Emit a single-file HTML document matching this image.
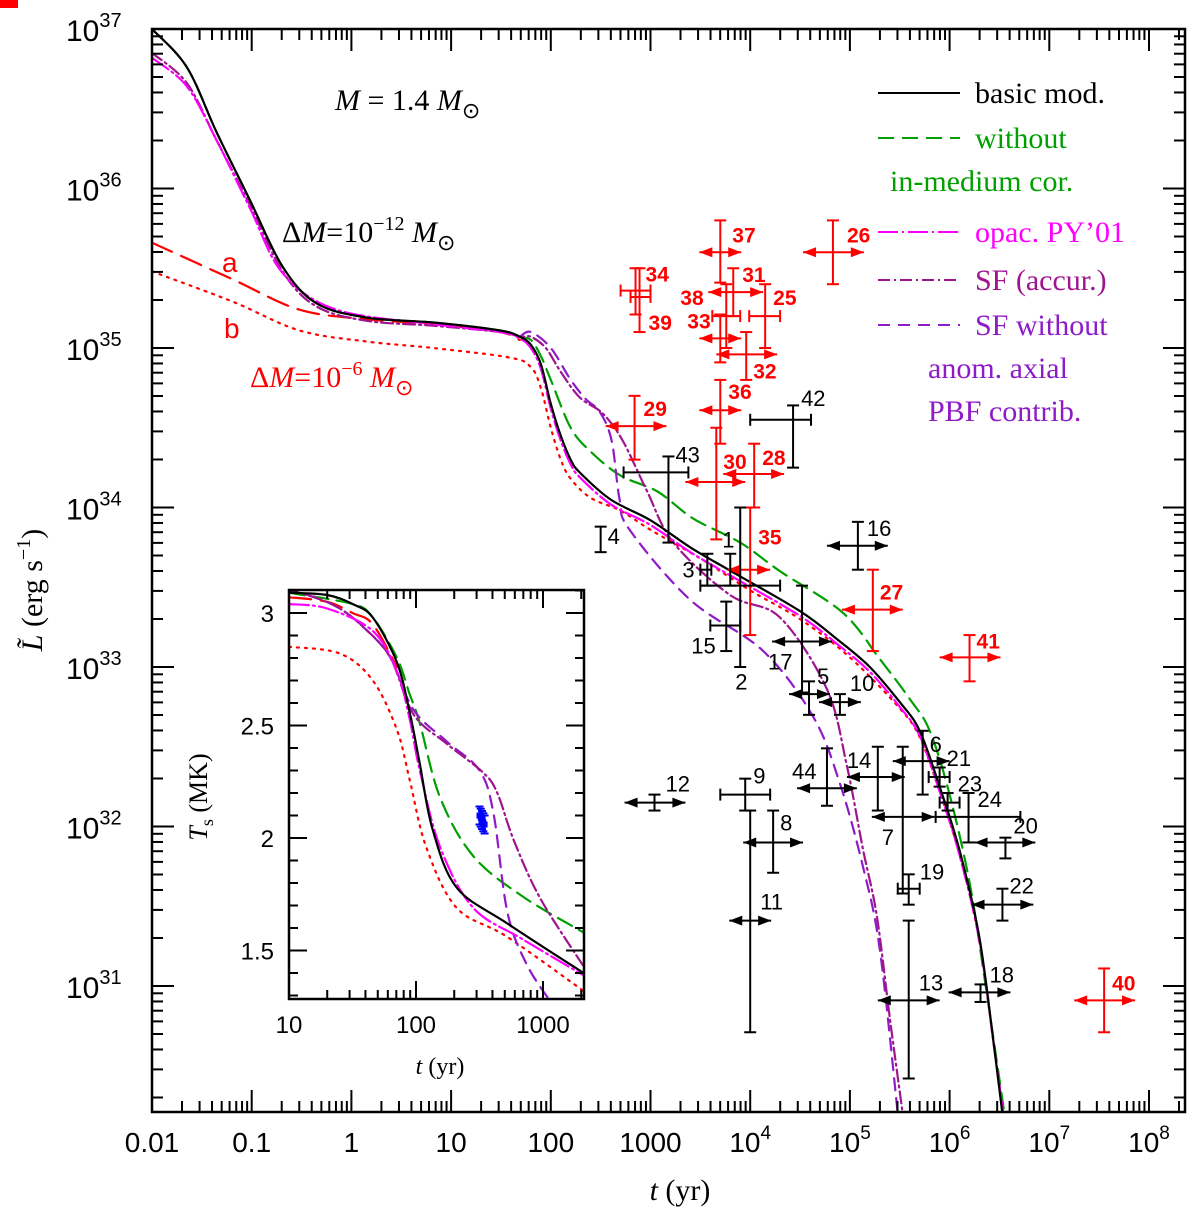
<!DOCTYPE html>
<html><head><meta charset="utf-8"><style>
html,body{margin:0;padding:0;background:#fff;}
svg{display:block;font-family:"Liberation Sans",sans-serif;}
</style></head><body>
<svg id="chart" width="1200" height="1215" viewBox="0 0 1200 1215" xmlns="http://www.w3.org/2000/svg">
<rect x="0" y="0" width="18" height="8" fill="#f00"/>
<defs>
<clipPath id="mainClip"><rect x="152" y="29" width="1033" height="1083"/></clipPath>
<clipPath id="insetClip"><rect x="289" y="590" width="295" height="409"/></clipPath>
</defs>
<g id="mainCurves" clip-path="url(#mainClip)"></g>
<g id="points"></g>
<g id="mainAxes"></g>
<g id="inset"></g>

<text x="335" y="110" font-size="30" font-family="Liberation Serif, serif"><tspan font-style="italic">M</tspan> = 1.4 <tspan font-style="italic">M</tspan><tspan font-size="22" dy="8">⊙</tspan></text>
<text x="282" y="242" font-size="30" font-family="Liberation Serif, serif">Δ<tspan font-style="italic">M</tspan>=10<tspan font-size="20" dy="-12">−12</tspan><tspan dy="12" font-style="italic"> M</tspan><tspan font-size="22" dy="8">⊙</tspan></text>
<text x="222" y="272" font-size="28" fill="#f00">a</text>
<text x="224" y="338" font-size="28" fill="#f00">b</text>
<text x="250" y="387" font-size="30" fill="#f00" font-family="Liberation Serif, serif">Δ<tspan font-style="italic">M</tspan>=10<tspan font-size="20" dy="-12">−6</tspan><tspan dy="12" font-style="italic"> M</tspan><tspan font-size="22" dy="8">⊙</tspan></text>

<g font-size="30" font-family="Liberation Serif, serif">
<line x1="878" y1="93" x2="960" y2="93" stroke="#000" stroke-width="2"/>
<text x="975" y="103">basic  mod.</text>
<line x1="878" y1="138" x2="960" y2="138" stroke="#00a000" stroke-width="2" stroke-dasharray="16 8"/>
<text x="975" y="148" fill="#00a000">without</text>
<text x="890" y="191" fill="#00a000">in-medium  cor.</text>
<line x1="878" y1="232" x2="960" y2="232" stroke="#ff00ff" stroke-width="2" stroke-dasharray="20 4 2 4"/>
<text x="975" y="242" fill="#ff00ff">opac. PY’01</text>
<line x1="878" y1="280" x2="960" y2="280" stroke="#a0148f" stroke-width="2" stroke-dasharray="12 4 2 4"/>
<text x="975" y="290" fill="#a0148f">SF (accur.)</text>
<line x1="878" y1="325" x2="960" y2="325" stroke="#8e1ac8" stroke-width="2" stroke-dasharray="12 8"/>
<text x="975" y="335" fill="#8e1ac8">SF  without</text>
<text x="928" y="378" fill="#8e1ac8">anom.  axial</text>
<text x="928" y="421" fill="#8e1ac8">PBF  contrib.</text>
</g>

<text transform="translate(42,590) rotate(-90)" text-anchor="middle" font-size="30" font-family="Liberation Serif, serif"><tspan font-style="italic">L̃</tspan>  (erg  s<tspan font-size="20" dy="-12">−1</tspan><tspan dy="12">)</tspan></text>
<text x="680" y="1200" text-anchor="middle" font-size="30" font-family="Liberation Serif, serif"><tspan font-style="italic">t</tspan>  (yr)</text>

<text x="440" y="1074" text-anchor="middle" font-size="24" font-family="Liberation Serif, serif"><tspan font-style="italic">t</tspan>  (yr)</text>
<text transform="translate(207,797) rotate(-90)" text-anchor="middle" font-size="26" font-family="Liberation Serif, serif"><tspan font-style="italic">T</tspan><tspan font-size="18" dy="6">s</tspan><tspan dy="-6">  (MK)</tspan></text>
</svg>

<script>
// ---------- main chart data ----------
const blackT=[-2,-1.65,-1.35,-1.02,-0.69,-0.35,0.16,0.82,1.49,1.69,1.8,1.9,2.0,2.1,2.2,2.29,2.6,3.0,3.4,3.81,4.5,4.88,5.2,5.5,5.7,5.9,6.1,6.3,6.45,6.53];
const blackL=[37.0,36.76,36.35,35.93,35.51,35.28,35.19,35.16,35.11,35.07,35.02,34.9,34.65,34.45,34.3,34.22,34.05,33.92,33.75,33.6,33.35,33.17,33.0,32.78,32.6,32.25,31.85,31.3,30.6,30.2];
const greenT=[-2,-1.65,-1.35,-1.02,-0.69,-0.35,0.16,0.82,1.49,1.69,1.8,1.9,2.0,2.2,2.4,2.7,3.07,3.43,3.9,4.3,4.93,5.3,5.6,5.8,6.0,6.2,6.35,6.55];
const greenL=[37.0,36.76,36.35,35.93,35.51,35.28,35.19,35.16,35.11,35.07,35.05,34.95,34.8,34.5,34.35,34.2,34.1,33.93,33.78,33.6,33.34,33.05,32.8,32.6,32.2,31.65,31.05,30.2];
const magT=[-2,-1.65,-1.35,-1.02,-0.69,-0.15,0.82,1.49,1.69,1.8,1.9,2.0,2.1,2.2,2.29,2.6,3.0,3.4,3.81,4.5,4.88,5.2,5.5,5.7,5.9,6.1,6.3,6.45,6.54];
const magL=[36.82,36.64,36.3,35.88,35.47,35.24,35.15,35.1,35.06,35.0,34.87,34.62,34.42,34.27,34.19,34.02,33.89,33.72,33.57,33.32,33.14,32.97,32.75,32.57,32.22,31.82,31.28,30.6,30.2];
const redAT=[-2,-1.19,-0.52,0.16,0.82,1.49,1.69];
const redAL=[35.66,35.43,35.24,35.18,35.15,35.1,35.05];
const redBT=[-2,-1.19,-0.52,0.16,0.82,1.59,1.8,1.9,2.0,2.1,2.2,2.4,2.7,3.0,3.5,4.0,4.5,5.0,5.5,5.7,5.9,6.1,6.3,6.45,6.54];
const redBL=[35.48,35.29,35.11,35.04,35.0,34.94,34.88,34.75,34.5,34.3,34.18,34.06,33.98,33.86,33.68,33.48,33.3,33.06,32.74,32.56,32.22,31.82,31.28,30.6,30.2];
const sfaT=[-2,-1.65,-1.35,-1.02,-0.69,-0.35,0.16,0.82,1.49,1.69,1.8,1.95,2.1,2.29,2.52,2.72,2.96,3.23,3.8,4.3,4.77,4.97,5.13,5.27,5.4,5.53];
const sfaL=[36.85,36.66,36.3,35.9,35.48,35.26,35.17,35.14,35.1,35.07,35.07,35.0,34.85,34.69,34.59,34.42,34.11,33.78,33.45,33.31,32.86,32.38,31.86,31.44,30.8,30.2];
const sfwT=[1.69,1.8,2.0,2.2,2.35,2.49,2.61,2.69,2.79,3.4,4.13,4.63,4.9,5.13,5.3,5.48];
const sfwL=[35.07,35.1,35.0,34.8,34.68,34.6,34.42,34.05,33.86,33.42,33.1,32.69,32.27,31.75,31.23,30.2];

// observational points
const ptId =['37','26','34','39','31','38','33','25','32','36','29','30','28','35','27','41','40','42','43','4','1','2','3','15','16','17','5','10','6','21','23','24','7','14','44','12','9','8','11','19','13','22','18','20'];
const ptT  =[3.70,4.83,2.85,2.89,3.83,3.76,3.70,4.15,3.96,3.70,2.84,3.66,4.04,4.00,5.23,6.20,7.55,4.43,3.18,2.50,3.80,3.90,3.57,3.76,5.08,4.52,4.59,4.90,5.73,5.90,5.98,6.19,5.53,5.28,4.77,3.04,3.95,4.23,4.00,5.59,5.59,6.53,6.31,6.56];
const ptL  =[35.60,35.60,35.36,35.32,35.35,35.20,35.06,35.20,34.96,34.61,34.51,34.16,34.21,33.61,33.36,33.06,30.91,34.55,34.22,33.77,33.61,33.51,33.61,33.26,33.76,33.16,32.83,32.78,32.41,32.31,32.15,32.06,32.06,32.31,32.24,32.15,32.20,31.90,31.41,31.61,30.91,31.51,30.96,31.90];
const ptTlo=[3.49,4.53,2.70,2.80,3.58,3.62,3.49,3.99,3.66,3.49,2.55,3.35,3.73,3.77,4.92,5.90,7.25,4.00,2.73,null,null,3.50,3.50,3.60,4.77,4.22,4.39,4.69,5.43,5.79,5.90,5.86,5.22,4.97,4.47,2.74,3.70,3.93,3.79,5.48,5.28,6.22,5.99,6.25];
const ptThi=[3.91,5.14,3.00,3.00,4.13,3.90,3.91,4.30,4.27,3.91,3.16,3.95,4.34,4.20,5.53,6.51,7.86,4.61,3.38,null,null,4.30,3.61,3.90,5.38,4.82,4.80,5.11,6.00,6.00,6.10,6.71,5.85,5.55,5.07,3.35,4.20,4.53,4.21,5.70,5.90,6.84,6.61,6.86];
const ptLlo=[35.41,35.40,35.21,35.10,35.20,35.00,34.91,35.00,34.80,34.40,34.30,33.80,34.00,33.20,33.10,32.91,30.71,34.25,33.78,33.72,33.51,33.00,33.51,33.10,33.61,32.84,32.70,32.70,32.20,32.25,32.10,31.90,31.58,32.10,32.13,32.10,32.10,31.71,30.71,31.51,30.42,31.41,30.90,31.80];
const ptLhi=[35.80,35.80,35.50,35.50,35.50,35.40,35.21,35.40,35.10,34.80,34.70,34.50,34.40,34.00,33.61,33.20,31.11,34.64,34.32,33.88,33.71,34.00,33.71,33.41,33.91,33.51,32.91,32.83,32.60,32.37,32.21,32.21,32.50,32.50,32.49,32.20,32.30,32.10,32.10,31.70,31.41,31.61,31.01,31.93];
const ptXStyle=['arrow','arrow','bar','bar','arrow','bar','arrow','bar','arrow','arrow','arrow','arrow','arrow','arrow','arrow','arrow','arrow','bar','bar','none','none','bar','bar','bar','arrow','arrow','arrow','arrow','arrow','bar','bar','bar','arrow','arrow','arrow','arrow','bar','arrow','arrow','bar','arrow','arrow','arrow','arrow'];
const ptRed=[1,1,1,1,1,1,1,1,1,1,1,1,1,1,1,1,1,0,0,0,0,0,0,0,0,0,0,0,0,0,0,0,0,0,0,0,0,0,0,0,0,0,0,0];
const ptLabDx=[12,14,10,9,9,-46,-33,8,7,8,9,7,8,8,7,7,8,8,7,7,-8,-5,-25,-35,9,-34,8,10,7,7,10,9,-21,-31,-35,11,8,7,10,11,10,7,9,8];
const ptLabDy=[-18,-18,-17,25,-18,-19,-18,-19,16,-19,-18,-21,-17,-33,-18,-17,-18,-22,-18,-8,-30,96,0,20,-18,20,-18,-19,-17,-19,-19,-18,20,-17,-17,-19,-19,-20,-19,-17,-18,-19,-18,-17];

const xTickVals=[-2,-1,0,1,2,3,4,5,6,7,8];
const xTickText=['0.01','0.1','1','10','100','1000','10','10','10','10','10'];
const xTickSup =['','','','','','','4','5','6','7','8'];
const yTickVals=[37,36,35,34,33,32,31];

// ---------- inset data ----------
const iBlackT=[1,1.3,1.5,1.66,1.85,1.95,2.03,2.13,2.32,2.72,3.32];
const iBlackV=[3.09,3.08,3.04,2.98,2.78,2.56,2.33,2.04,1.78,1.62,1.40];
const iGreenT=[1,1.5,1.66,1.85,1.95,2.03,2.19,2.45,2.84,3.32];
const iGreenV=[3.09,3.04,2.98,2.8,2.64,2.51,2.18,1.92,1.74,1.58];
const iSfaT=[1,1.2,1.4,1.6,1.8,1.98,2.24,2.53,2.64,2.77,2.98,3.32];
const iSfaV=[3.1,3.07,3.02,2.93,2.8,2.55,2.42,2.29,2.2,1.99,1.73,1.43];
const iSfwT=[1,1.2,1.4,1.6,1.8,1.98,2.24,2.5,2.61,2.72,2.87,3.05];
const iSfwV=[3.1,3.07,3.02,2.93,2.8,2.57,2.43,2.3,2.11,1.67,1.44,1.28];
const iMagT=[1,1.3,1.66,1.85,1.95,2.03,2.19,2.45,2.84,3.32];
const iMagV=[3.04,3.02,2.92,2.74,2.53,2.3,1.96,1.69,1.55,1.39];
const iRedAT=[1,1.3,1.5,1.66,1.85];
const iRedAV=[3.07,3.05,3.0,2.95,2.76];
const iRedBT=[1,1.4,1.66,1.85,1.95,2.08,2.32,2.72,3.32];
const iRedBV=[2.85,2.82,2.7,2.48,2.26,1.96,1.69,1.56,1.32];
const iBlueT=[2.50,2.51,2.52,2.53,2.54];
const iBlueV=[2.10,2.09,2.08,2.07,2.06];
const iBlueErr=[0.04,0.04,0.04,0.04,0.04];
const iYTicks=[1.5,2,2.5,3];
const iYTickText=['1.5','2','2.5','3'];
const iXTicks=[1,2,3];
const iXTickText=['10','100','1000'];

// ---------- helpers ----------
const NS='http://www.w3.org/2000/svg';
const X=lt=>152+(lt+2)*99.7;
const Y=l=>29+(37-l)*159.5;
const IX=lt=>289+(lt-1)*127;
const IY=v=>613-(v-3)*225;
function mk(tag,attrs,parent){const e=document.createElementNS(NS,tag);for(const k in attrs)e.setAttribute(k,attrs[k]);parent.appendChild(e);return e;}
function pathD(ts,vs,fx,fy){
 const p=ts.map((t,i)=>[fx(t),fy(vs[i])]);
 let d='M'+p[0][0].toFixed(1)+','+p[0][1].toFixed(1);
 for(let i=0;i<p.length-1;i++){
  const p0=p[i-1]||p[i],p1=p[i],p2=p[i+1],p3=p[i+2]||p2;
  const c1x=p1[0]+(p2[0]-p0[0])/6,c1y=p1[1]+(p2[1]-p0[1])/6;
  const c2x=p2[0]-(p3[0]-p1[0])/6,c2y=p2[1]-(p3[1]-p1[1])/6;
  d+=` C${c1x.toFixed(1)},${c1y.toFixed(1)} ${c2x.toFixed(1)},${c2y.toFixed(1)} ${p2[0].toFixed(1)},${p2[1].toFixed(1)}`;
 }
 return d;
}

const mc=document.getElementById('mainCurves');
const curves=[
 [redAT,redAL,'#f00','22 10','curve-a'],
 [redBT,redBL,'#f00','2 6','curve-b'],
 [greenT,greenL,'#00a000','16 8','curve-no-medium'],
 [sfwT,sfwL,'#8e1ac8','12 8','curve-sf-without'],
 [sfaT,sfaL,'#a0148f','12 4 2 4','curve-sf-accur'],
 [magT,magL,'#ff00ff','20 4 2 4','curve-opac'],
 [blackT,blackL,'#000','','curve-basic']
];
curves.forEach(c=>{
 const p=mk('path',{d:pathD(c[0],c[1],X,Y),fill:'none',stroke:c[2],'stroke-width':2.2,'stroke-linejoin':'round','stroke-linecap':'round'},mc);
 if(c[3])p.setAttribute('stroke-dasharray',c[3]);
 
 
});

// points
const pg=document.getElementById('points');
function arrowHead(x,y,dir,col,g){mk('path',{d:`M${x},${y} L${x-dir*13},${y-5} L${x-dir*13},${y+5} Z`,fill:col},g);}
ptId.forEach((id,i)=>{
 const col=ptRed[i]?'#f00':'#000';
 const g=mk('g',{},pg);
 
 
 const cx=X(ptT[i]),cy=Y(ptL[i]);
 const y1=Y(ptLhi[i]),y2=Y(ptLlo[i]);
 mk('line',{x1:cx,y1:y1,x2:cx,y2:y2,stroke:col,'stroke-width':2},g);
 mk('line',{x1:cx-6,y1:y1,x2:cx+6,y2:y1,stroke:col,'stroke-width':2},g);
 mk('line',{x1:cx-6,y1:y2,x2:cx+6,y2:y2,stroke:col,'stroke-width':2},g);
 if(ptXStyle[i]!=='none'){
  const x1=X(ptTlo[i]),x2=X(ptThi[i]);
  mk('line',{x1:x1,y1:cy,x2:x2,y2:cy,stroke:col,'stroke-width':2},g);
  if(ptXStyle[i]==='arrow'){arrowHead(x1,cy,-1,col,g);arrowHead(x2,cy,1,col,g);}
  else{mk('line',{x1:x1,y1:cy-6,x2:x1,y2:cy+6,stroke:col,'stroke-width':2},g);mk('line',{x1:x2,y1:cy-6,x2:x2,y2:cy+6,stroke:col,'stroke-width':2},g);}
 }
 const t=mk('text',{x:cx+ptLabDx[i],y:cy+ptLabDy[i]+8,'font-size':ptRed[i]?21:22,fill:col,'font-weight':ptRed[i]?'bold':'normal'},g);
 t.textContent=id;
});

// main axes
const ax=document.getElementById('mainAxes');
mk('rect',{x:152,y:29,width:1033,height:1083,fill:'none',stroke:'#000','stroke-width':2.5},ax);
for(let d=-2;d<=8;d++){
 for(let m=1;m<=9;m++){
  const lt=d+Math.log10(m);const x=X(lt);if(x>1185)continue;
  const len=m===1?22:11;
  mk('line',{x1:x,y1:1112,x2:x,y2:1112-len,stroke:'#000','stroke-width':2},ax);
  mk('line',{x1:x,y1:29,x2:x,y2:29+len,stroke:'#000','stroke-width':2},ax);
 }
}
xTickVals.forEach((v,i)=>{
 const t=mk('text',{x:X(v),y:1152,'text-anchor':'middle','font-size':28},ax);
 t.textContent=xTickText[i];
 if(xTickSup[i]){const s=mk('tspan',{'font-size':19,dy:-13},t);s.textContent=xTickSup[i];}
 
 
});
for(let d=30;d<=37;d++){
 for(let m=1;m<=9;m++){
  const l=d+Math.log10(m);const y=Y(l);if(y<29||y>1112)continue;
  const len=m===1?22:11;
  mk('line',{x1:152,y1:y,x2:152+len,y2:y,stroke:'#000','stroke-width':2},ax);
  mk('line',{x1:1185,y1:y,x2:1185-len,y2:y,stroke:'#000','stroke-width':2},ax);
 }
}
yTickVals.forEach(v=>{
 const t=mk('text',{x:66,y:Y(v)+12,'font-size':30},ax);
 t.textContent='10';
 const s=mk('tspan',{'font-size':20,dy:-14},t);s.textContent=String(v);
 
 
});

// inset
const ig=document.getElementById('inset');
mk('rect',{x:289,y:590,width:295,height:409,fill:'#fff'},ig);
const ic=mk('g',{'clip-path':'url(#insetClip)'},ig);
const icurves=[
 [iRedBT,iRedBV,'#f00','2 6','inset-curve-b'],
 [iRedAT,iRedAV,'#f00','22 10','inset-curve-a'],
 [iGreenT,iGreenV,'#00a000','16 8','inset-curve-no-medium'],
 [iSfwT,iSfwV,'#8e1ac8','12 8','inset-curve-sf-without'],
 [iSfaT,iSfaV,'#a0148f','12 4 2 4','inset-curve-sf-accur'],
 [iMagT,iMagV,'#ff00ff','20 4 2 4','inset-curve-opac'],
 [iBlackT,iBlackV,'#000','','inset-curve-basic']
];
icurves.forEach(c=>{
 const p=mk('path',{d:pathD(c[0],c[1],IX,IY),fill:'none',stroke:c[2],'stroke-width':2.2,'stroke-linejoin':'round','stroke-linecap':'round'},ic);
 if(c[3])p.setAttribute('stroke-dasharray',c[3]);
 
 
});
iBlueT.forEach((t,i)=>{
 const x=IX(t),y=IY(iBlueV[i]),y1=IY(iBlueV[i]+iBlueErr[i]),y2=IY(iBlueV[i]-iBlueErr[i]);
 const g=mk('g',{},ic);
 
 
 mk('line',{x1:x,y1:y1,x2:x,y2:y2,stroke:'#0000ff','stroke-width':2},g);
 mk('line',{x1:x-4,y1:y1,x2:x+4,y2:y1,stroke:'#0000ff','stroke-width':2},g);
 mk('line',{x1:x-4,y1:y2,x2:x+4,y2:y2,stroke:'#0000ff','stroke-width':2},g);
 mk('rect',{x:x-3,y:y-3,width:6,height:6,fill:'#0000ff'},g);
});
mk('rect',{x:289,y:590,width:295,height:409,fill:'none',stroke:'#000','stroke-width':2.5},ig);
for(let d=1;d<=3;d++){for(let m=1;m<=9;m++){
 const lt=d+Math.log10(m);const x=IX(lt);if(x>584)continue;
 const len=m===1?18:9;
 mk('line',{x1:x,y1:999,x2:x,y2:999-len,stroke:'#000','stroke-width':2},ig);
 mk('line',{x1:x,y1:590,x2:x,y2:590+len,stroke:'#000','stroke-width':2},ig);
}}
for(let k=13;k<=31;k++){
 const v=k/10;const y=IY(v);if(y<590||y>999)continue;
 const len=(k%5===0)?18:9;
 mk('line',{x1:289,y1:y,x2:289+len,y2:y,stroke:'#000','stroke-width':2},ig);
 mk('line',{x1:584,y1:y,x2:584-len,y2:y,stroke:'#000','stroke-width':2},ig);
}
iYTicks.forEach((v,i)=>{
 const t=mk('text',{x:274,y:IY(v)+9,'text-anchor':'end','font-size':24},ig);
 t.textContent=iYTickText[i];
 
 
});
iXTicks.forEach((v,i)=>{
 const t=mk('text',{x:IX(v),y:1033,'text-anchor':'middle','font-size':24},ig);
 t.textContent=iXTickText[i];
 
 
});
</script>
</body></html>
